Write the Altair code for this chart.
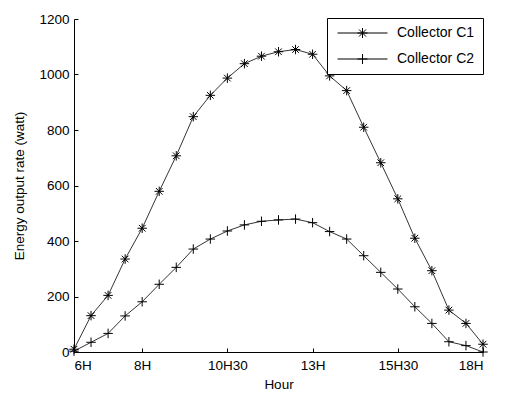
import altair as alt
import pandas as pd

hours = [6, 6.5, 7, 7.5, 8, 8.5, 9, 9.5, 10, 10.5, 11, 11.5, 12, 12.5,
         13, 13.5, 14, 14.5, 15, 15.5, 16, 16.5, 17, 17.5, 18]
c1 = [10, 131, 204, 335, 446, 579, 707, 848, 925, 987, 1039, 1066, 1082, 1090,
      1073, 995, 942, 810, 682, 552, 410, 293, 151, 103, 28]
c2 = [3, 35, 67, 130, 181, 244, 305, 371, 407, 436, 458, 471, 476, 479,
      466, 434, 407, 347, 287, 227, 163, 103, 37, 23, 0]
series_names = ["Collector C1", "Collector C2"]
x_tick_values = [6, 8, 10.5, 13, 15.5, 18]
y_tick_values = [0, 200, 400, 600, 800, 1000, 1200]

df = pd.DataFrame({
    "hour": hours * 2,
    "value": c1 + c2,
    "series": [series_names[0]] * len(hours) + [series_names[1]] * len(hours),
})

FONT = "Liberation Sans"
STAR = "M-1,0L1,0M0,-1L0,1M-0.7,-0.7L0.7,0.7M-0.7,0.7L0.7,-0.7"
PLUS = "M-1,0L1,0M0,-1L0,1"
LEG_STAR = "M-0.9,0L9.1,0M3.1,0L5.1,0M4.1,-1L4.1,1M3.4,-0.7L4.8,0.7M3.4,0.7L4.8,-0.7"
LEG_PLUS = "M-0.9,0L9.1,0M3.1,0L5.1,0M4.1,-1L4.1,1"

xscale = alt.Scale(domain=[6, 18], nice=False, zero=False)
yscale = alt.Scale(domain=[0, 1200], nice=False)

base = alt.Chart(df)

lines = base.mark_line(color="black", strokeWidth=0.8).encode(
    x=alt.X("hour:Q", scale=xscale,
            axis=alt.Axis(orient="top", offset=-333, labels=False, domain=False,
                          ticks=True, tickSize=4, tickColor="black", grid=False,
                          values=x_tick_values, title=None)),
    y=alt.Y("value:Q", scale=yscale,
            axis=alt.Axis(orient="right", offset=-409, labels=False, domain=False,
                          ticks=True, tickSize=4, tickColor="black", grid=False,
                          values=y_tick_values, title=None)),
    detail="series:N",
)

points = base.mark_point(filled=False, color="black", strokeWidth=1, size=90, opacity=1).encode(
    x=alt.X("hour:Q", scale=xscale,
            axis=alt.Axis(orient="bottom", values=x_tick_values,
                          labelExpr="floor(datum.value) + 'H' + (datum.value % 1 ? '30' : '')",
                          ticks=False, tickSize=0, grid=False, domainColor="black",
                          labelFont=FONT, labelFontSize=13.5, labelColor="black",
                          labelPadding=6, title="Hour", titleFont=FONT,
                          titleFontSize=13.5, titleFontWeight="normal",
                          titleColor="black", titlePadding=6)),
    y=alt.Y("value:Q", scale=yscale,
            axis=alt.Axis(orient="left", values=y_tick_values, format="d",
                          ticks=False, tickSize=0, grid=False, domainColor="black",
                          labelFont=FONT, labelFontSize=13.5, labelColor="black",
                          labelPadding=5, title="Energy output rate (watt)",
                          titleFont=FONT, titleFontSize=13.5, titleFontWeight="normal",
                          titleColor="black", titlePadding=12)),
    shape=alt.Shape("series:N", scale=alt.Scale(domain=series_names, range=[STAR, PLUS]),
                    legend=None),
)

legend_layer = base.transform_filter("false").mark_point(
    filled=False, color="black", strokeWidth=1, opacity=1).encode(
    x=alt.X("hour:Q", scale=xscale, axis=None),
    y=alt.Y("value:Q", scale=yscale, axis=None),
    shape=alt.Shape("series:N",
                    scale=alt.Scale(domain=series_names, range=[LEG_STAR, LEG_PLUS]),
                    legend=alt.Legend(orient="none", legendX=253, legendY=-1, title=None,
                                      padding=8, strokeColor="black", fillColor="white",
                                      labelFont=FONT, labelFontSize=14, labelColor="black",
                                      labelOffset=48, symbolSize=100, symbolStrokeWidth=1,
                                      symbolStrokeColor="black", symbolFillColor="transparent",
                                      symbolOpacity=1, rowPadding=12,
                                      labelExpr="datum.label + '\u00a0\u00a0'")),
)

chart = alt.layer(lines, points, legend_layer).resolve_scale(
    shape="independent"
).resolve_axis(x="independent", y="independent").properties(
    width=409, height=333,
    autosize=alt.AutoSizeParams(type="none"),
    padding={"left": 74, "top": 19, "right": 22, "bottom": 42},
    background="white",
).configure_view(stroke="transparent")

chart.save("out.html", embed_options={"renderer": "svg", "actions": False})
